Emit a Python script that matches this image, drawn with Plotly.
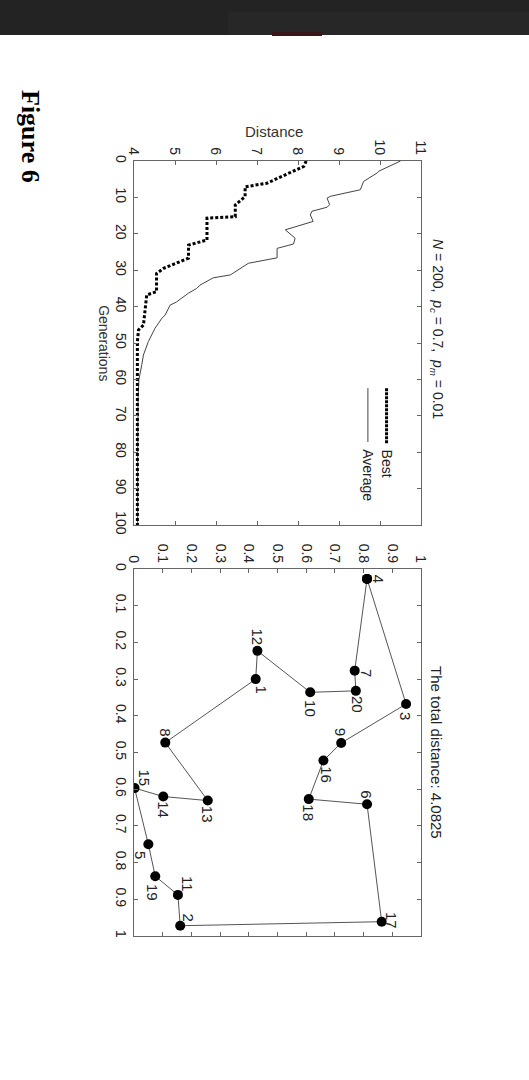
import plotly.graph_objects as go

# left panel: convergence of the GA
BEST_GEN = [0, 1.5, 6.1, 7.1, 9.8, 12.1, 15.3, 15.7, 21.7, 23.1, 26.7, 29.5, 30.9, 35.9,
            36.8, 41.4, 45.1, 46.4, 49.6, 100]
BEST_DIST = [8.2, 8.14, 7.24, 6.71, 6.71, 6.47, 6.47, 5.78, 5.78, 5.33, 5.33, 4.72, 4.55, 4.55,
             4.31, 4.27, 4.23, 4.11, 4.0825, 4.0825]

AVG_GEN = [0, 2.8, 3.3, 5.6, 7.9, 9.7, 10.2, 12.0, 12.7, 13.8, 14.8, 16.6, 18.9, 21.2, 22.8,
           24.0, 26.6, 28.1, 31.3, 32.1, 34.1, 35.0, 36.3, 38.7, 39.6, 42.3, 43.2, 46.0, 49.6,
           53.3, 56.0, 60, 65, 70, 80, 100]
AVG_DIST = [10.5, 9.97, 9.93, 9.6, 9.52, 8.79, 8.71, 8.77, 8.71, 8.34, 8.3, 8.37, 7.69, 7.93, 7.89,
            7.49, 7.49, 6.79, 6.35, 5.93, 5.61, 5.53, 5.33, 5.04, 4.88, 4.76, 4.68, 4.51, 4.35,
            4.23, 4.19, 4.12, 4.1, 4.095, 4.09, 4.09]

DIST_TICKS = [4, 5, 6, 7, 8, 9, 10, 11]
GEN_TICKS = [0, 10, 20, 30, 40, 50, 60, 70, 80, 90, 100]

# right panel: best tour, cities in visiting order
TOUR = [4, 3, 9, 16, 18, 6, 17, 2, 11, 19, 5, 15, 14, 13, 8, 1, 12, 10, 20, 7]
CITY_X = [0.027, 0.368, 0.474, 0.522, 0.627, 0.641, 0.961, 0.972, 0.888, 0.837,
          0.750, 0.597, 0.620, 0.631, 0.473, 0.300, 0.223, 0.336, 0.332, 0.277]
CITY_Y = [0.812, 0.948, 0.722, 0.660, 0.609, 0.812, 0.863, 0.161, 0.153, 0.074,
          0.050, 0.002, 0.102, 0.257, 0.109, 0.424, 0.430, 0.614, 0.773, 0.769]
UNIT_TICKS = [0, 0.1, 0.2, 0.3, 0.4, 0.5, 0.6, 0.7, 0.8, 0.9, 1]
UNIT_LABELS = ['0', '0.1', '0.2', '0.3', '0.4', '0.5', '0.6', '0.7', '0.8', '0.9', '1']

TOTAL = '4.0825'

# label offsets on the page (right, down) in px
LABEL_SHIFT = {4: (11, 0), 3: (0, 12), 9: (-1, -11), 16: (3, 14), 18: (0, 14), 6: (0, -10),
               17: (10, -1), 2: (8, -8), 11: (9, -11), 19: (-2, 16), 5: (-8, 11),
               15: (10, -10), 14: (0, 13), 13: (0, 14), 8: (0, -10), 1: (6, 10),
               12: (0, -14), 10: (0, 16), 20: (1, 14), 7: (12, 2)}

W, H = 529, 1080
FONT = 'Liberation Sans'
INK = '#222222'
FRAME = '#666666'


def label(x, y, xref, yref, text, size=14, angle=90, color=INK, family=FONT, **kw):
    d = dict(x=x, y=y, xref=xref, yref=yref, text=text, showarrow=False, textangle=angle,
             xanchor='center', yanchor='middle',
             font=dict(family=family, size=size, color=color))
    d.update(kw)
    return d


def main():
    fig = go.Figure()

    # the scan is rotated a quarter turn clockwise: distance runs across, generations run down
    fig.add_trace(go.Scatter(x=AVG_DIST, y=AVG_GEN, mode='lines',
                             line=dict(color='#444444', width=1), xaxis='x', yaxis='y'))
    fig.add_trace(go.Scatter(x=BEST_DIST, y=BEST_GEN, mode='lines',
                             line=dict(color='black', width=3, dash='3px,2px'),
                             xaxis='x', yaxis='y'))

    fig.add_trace(go.Scatter(x=CITY_Y + CITY_Y[:1], y=CITY_X + CITY_X[:1], mode='lines+markers',
                             line=dict(color='#555555', width=1),
                             marker=dict(color='black', size=10),
                             xaxis='x2', yaxis='y2'))

    annotations = []
    for cid, cx, cy in zip(TOUR, CITY_X, CITY_Y):
        dx, dy = LABEL_SHIFT[cid]
        annotations.append(label(cy, cx, 'x2', 'y2', str(cid), size=15, xshift=dx, yshift=-dy))

    annotations += [
        label(30 / W, 1 - 136 / H, 'paper', 'paper', '<b>Figure 6</b>', size=26,
              color='black', family='Liberation Serif'),
        label((274 - 134) / 287, 1.082, 'x domain', 'y domain', 'Distance', size=15,
              angle=0, color='#333333'),
        label(-0.105, 0.5, 'x domain', 'y domain', 'Generations', color='#333333'),
        label(1.056, 0.538, 'x domain', 'y domain',
              '<i>N</i> = 200,  <i>p</i><sub><i>c</i></sub> = 0.7,  '
              '<i>p</i><sub><i>m</i></sub> = 0.01'),
        label(1.056, 0.501, 'x2 domain', 'y2 domain', 'The total distance: ' + TOTAL, size=15),
        label(0.880, 0.214, 'x domain', 'y domain', 'Best', yanchor='top'),
        label(0.815, 0.214, 'x domain', 'y domain', 'Average', yanchor='top'),
    ]

    shapes = [
        # dark window bar across the top of the screenshot
        dict(type='rect', xref='paper', yref='paper', x0=0, x1=1, y0=1 - 35 / H, y1=1,
             fillcolor='#232323', line=dict(width=0), layer='above'),
        dict(type='rect', xref='paper', yref='paper', x0=228 / W, x1=1, y0=1 - 35 / H,
             y1=1 - 12 / H, fillcolor='#272727', line=dict(width=0), layer='above'),
        dict(type='rect', xref='paper', yref='paper', x0=272 / W, x1=322 / W, y0=1 - 36 / H,
             y1=1 - 32 / H, fillcolor='#3a1616', line=dict(width=0), layer='above'),
        # legend samples
        dict(type='line', xref='x domain', yref='y domain', x0=0.880, x1=0.880, y0=0.376,
             y1=0.222, line=dict(color='black', width=3, dash='3px,1px')),
        dict(type='line', xref='x domain', yref='y domain', x0=0.815, x1=0.815, y0=0.376,
             y1=0.228, line=dict(color='#444444', width=1)),
    ]

    axis_style = dict(showline=True, linecolor=FRAME, linewidth=1, mirror='ticks',
                      ticks='inside', ticklen=4, tickcolor=FRAME, showgrid=False,
                      zeroline=False, tickangle=90, automargin=False,
                      tickfont=dict(family=FONT, size=14, color=INK))
    x_dom = [134 / W, 421 / W]

    fig.update_layout(
        width=W, height=H,
        margin=dict(l=0, r=0, t=0, b=0, autoexpand=False),
        paper_bgcolor='white', plot_bgcolor='white',
        showlegend=False,
        xaxis=dict(axis_style, domain=x_dom, range=[4, 11], side='top', anchor='y',
                   tickvals=DIST_TICKS),
        yaxis=dict(axis_style, domain=[1 - 525 / H, 1 - 161 / H], range=[100, 0],
                   anchor='x', tickvals=GEN_TICKS),
        xaxis2=dict(axis_style, domain=x_dom, range=[0, 1], side='top', anchor='y2',
                    tickvals=UNIT_TICKS, ticktext=UNIT_LABELS),
        yaxis2=dict(axis_style, domain=[1 - 936 / H, 1 - 569 / H], range=[1, 0],
                    anchor='x2', tickvals=UNIT_TICKS, ticktext=UNIT_LABELS),
        annotations=annotations,
        shapes=shapes,
    )

    # drop the browser's default page margin so the figure sits at the window corner
    fig.write_html('out.html', config={'displayModeBar': False},
                   post_script="document.body.style.margin='0';")


if __name__ == '__main__':
    main()
